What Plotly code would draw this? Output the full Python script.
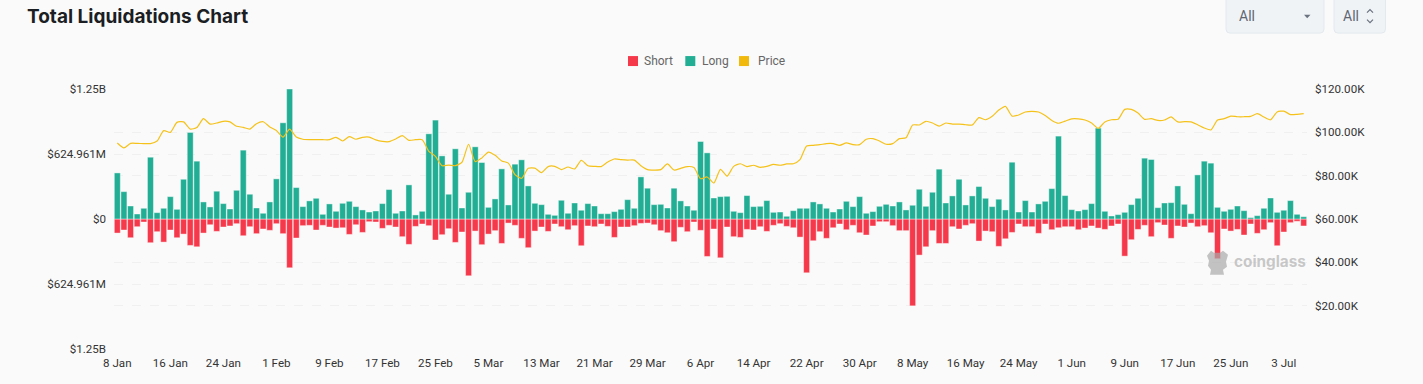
import pandas as pd
import plotly.graph_objects as go

START_DATE = "2025-01-08"
LONG_M = [443,263,125,48,103,594,61,103,215,93,382,832,556,164,116,267,148,96,276,662,
238,106,55,164,386,925,1250,302,119,174,199,45,145,74,151,170,119,87,67,77,
148,283,55,77,328,39,74,819,951,607,238,675,106,257,694,543,112,193,482,135,
527,569,318,151,138,45,35,180,55,154,84,148,125,51,51,71,93,186,103,405,
296,138,141,106,296,174,125,84,745,636,202,215,218,74,61,225,119,122,177,64,
67,26,80,103,103,164,145,103,67,96,170,119,215,55,71,122,141,125,164,87,
132,286,122,257,479,154,222,382,135,222,312,199,119,190,87,546,67,177,67,145,
170,292,797,225,90,77,90,148,874,74,29,42,64,138,199,585,572,109,154,157,
318,141,51,424,556,537,112,74,93,125,80,13,32,103,202,64,84,177,45,22]
SHORT_M = [135,106,180,74,29,228,122,222,106,180,145,254,267,135,55,119,77,67,45,161,
74,141,96,109,45,141,469,183,64,61,106,61,77,87,84,148,55,129,26,29,
90,61,77,170,244,71,48,64,202,151,93,225,125,546,116,247,145,112,235,39,
61,186,276,116,77,119,48,74,103,64,257,67,74,48,71,177,77,77,64,42,
39,55,112,132,218,80,122,29,109,360,96,373,77,170,177,100,106,74,119,61,
45,71,84,174,517,209,122,186,84,48,103,61,132,154,67,26,26,64,112,112,
835,347,267,112,235,235,74,96,61,45,212,116,122,263,190,129,48,74,74,138,
48,103,84,74,74,103,87,67,87,100,67,48,357,199,100,61,170,35,58,186,
67,77,39,74,64,132,382,96,116,100,154,48,138,103,35,257,125,35,22,67]
PRICE_K = [95.1,92.8,94.9,94.9,94.8,94.8,96.0,100.8,100.0,104.6,104.8,101.5,102.2,106.3,103.8,104.3,105.1,104.8,102.8,102.3,
101.5,104.0,104.9,102.5,100.8,97.8,101.5,97.8,96.8,96.6,96.6,96.6,96.6,97.7,96.0,98.0,96.8,97.7,97.8,96.5,
95.8,95.7,96.9,98.5,96.3,96.6,96.6,91.2,88.9,84.6,84.9,84.6,86.2,94.5,86.5,88.2,90.9,89.4,86.8,85.8,
80.5,78.8,83.4,83.5,81.4,84.2,84.3,82.8,84.0,83.1,87.1,84.6,84.3,84.2,86.3,87.7,87.4,87.2,87.2,84.6,
82.8,82.6,82.8,85.4,82.6,83.4,84.2,83.8,78.6,79.4,76.6,82.9,79.8,84.3,85.5,84.2,84.8,83.8,84.3,85.2,
84.8,85.4,85.5,87.4,93.7,94.0,94.3,94.8,94.8,94.0,95.1,94.3,94.3,96.8,97.1,96.0,94.5,94.8,97.1,97.5,
103.4,103.4,105.1,104.3,102.9,104.3,103.8,103.8,103.5,103.4,106.8,105.8,107.4,110.3,112.0,107.5,108.0,109.4,109.7,109.4,
107.8,105.5,104.2,105.2,106.2,106.2,105.7,104.3,101.8,104.8,105.8,106.0,110.6,110.6,108.9,106.0,106.3,105.5,105.7,107.1,
104.8,104.9,104.8,103.5,102.0,101.1,105.7,106.3,107.5,107.2,107.2,107.4,108.6,107.1,105.8,109.4,109.8,108.2,108.3,108.6]
LEFT_TICKS = [-1250, -624.961, 0, 624.961, 1250]
LEFT_LABELS = ["$1.25B", "$624.961M", "$0", "$624.961M", "$1.25B"]
RIGHT_TICKS = [0, 20, 40, 60, 80, 100, 120]
RIGHT_LABELS = ["", "$20.00K", "$40.00K", "$60.00K", "$80.00K", "$100.00K", "$120.00K"]
SERIES_NAMES = ["Short", "Long", "Price"]
SHORT_COLOR, LONG_COLOR, PRICE_COLOR = "#f6384b", "#21ae94", "#f0b90b"

dates = pd.date_range(START_DATE, periods=len(LONG_M), freq="D")
cats = [f"{d.day} {d.strftime('%b')}" for d in dates]
shorts = [-v for v in SHORT_M]

W, H = 1423, 384
L, R, T, B = 114, 1307, 89, 349.5
FONT = "Roboto"
TICK_SIZE = 11.6
def fx(p): return (p - L) / (R - L)
def fy(p): return (B - p) / (B - T)

fig = go.Figure()
edge = "rgba(255,255,255,0.4)"
fig.add_bar(x=cats, y=shorts, name="Short", marker=dict(color=SHORT_COLOR, line=dict(color=edge, width=1)))
fig.add_bar(x=cats, y=LONG_M, name="Long", marker=dict(color=LONG_COLOR, line=dict(color=edge, width=1)))
fig.add_scatter(x=cats, y=PRICE_K, name="Price", yaxis="y2", mode="lines",
                line=dict(color="#f5c21b", width=1.2, shape="spline", smoothing=0.6))

shapes = []
def rrect(x0, y0, x1, y1, r, fill, line):
    path = (f"M {fx(x0+r)} {fy(y0)} L {fx(x1-r)} {fy(y0)} Q {fx(x1)} {fy(y0)} {fx(x1)} {fy(y0+r)} "
            f"L {fx(x1)} {fy(y1-r)} Q {fx(x1)} {fy(y1)} {fx(x1-r)} {fy(y1)} L {fx(x0+r)} {fy(y1)} "
            f"Q {fx(x0)} {fy(y1)} {fx(x0)} {fy(y1-r)} L {fx(x0)} {fy(y0+r)} Q {fx(x0)} {fy(y0)} {fx(x0+r)} {fy(y0)} Z")
    shapes.append(dict(type="path", xref="paper", yref="paper", path=path, fillcolor=fill,
                       line=dict(color=line, width=1), layer="above"))
def poly(points, fill=None, line=None, width=1):
    path = "M " + " L ".join(f"{fx(a)} {fy(b)}" for a, b in points)
    if fill: path += " Z"
    shapes.append(dict(type="path", xref="paper", yref="paper", path=path,
                       fillcolor=fill if fill else "rgba(0,0,0,0)",
                       line=dict(color=line if line else "rgba(0,0,0,0)", width=width), layer="above"))

rrect(1226, -6, 1324, 33, 4, "#eff3f6", "#e4e9ee")
rrect(1334, -6, 1385.5, 33, 4, "#eff3f6", "#e4e9ee")
poly([(1304, 14.5), (1310.5, 14.5), (1307.2, 18)], fill="#6b7280")
poly([(1367, 12.5), (1370, 9.5), (1373, 12.5)], line="#6b7280", width=1.2)
poly([(1367, 19.5), (1370, 22.5), (1373, 19.5)], line="#6b7280", width=1.2)
# legend swatches
for x0, col in zip([628, 685.3, 739], [SHORT_COLOR, LONG_COLOR, PRICE_COLOR]):
    poly([(x0, 56), (x0 + 10, 56), (x0 + 10, 66), (x0, 66)], fill=col)
# watermark bear
wm = "rgba(170,170,170,0.7)"
poly([(1207, 256), (1211, 251), (1214, 253), (1220, 253), (1223, 251), (1228, 255), (1226, 262), (1227, 267),
      (1223, 270), (1224, 275), (1210, 275), (1211, 270), (1208, 266), (1209, 261)], fill=wm)

def note(px, py, text, size, color, anchor="left", weight=None, family=FONT):
    return dict(x=fx(px), y=fy(py), xref="paper", yref="paper", text=text, showarrow=False, xanchor=anchor, yanchor="middle",
                font=dict(size=size, color=color, family=family, weight=weight), xshift=-1)
annotations = [
    note(25.5, 16, "Total Liquidations Chart", 19, "#1b1e23", weight=700, family="Inter"),
    note(1238, 16, "All", 14, "#5f6672"),
    note(1342, 16, "All", 14, "#5f6672"),
    note(1233, 262, "coinglass", 15.3, "rgba(190,190,190,0.85)", weight=700, family="Inter"),
]
for px, name in zip([643.3, 700.7, 757.3], SERIES_NAMES):
    annotations.append(note(px, 61, name, 12, "#666666"))

grid = "#f0f0f0"
fig.update_layout(
    width=W, height=H, margin=dict(l=L, r=W - R, t=T, b=H - B, pad=0),
    paper_bgcolor="#fafafa", plot_bgcolor="#fafafa",
    barmode="relative", bargap=0.1, showlegend=False,
    font=dict(family=FONT, size=12, color="#333333"),
    xaxis=dict(type="category", range=[-0.5, len(cats) - 0.5], tickmode="array", tickvals=cats[::8], ticktext=cats[::8],
               showgrid=False, zeroline=False, showline=False, ticks="", ticklen=0, tickangle=0, ticklabelstandoff=5,
               tickfont=dict(size=TICK_SIZE, color="#333333")),
    yaxis=dict(range=[-1250, 1250], tickmode="array", tickvals=LEFT_TICKS, ticktext=LEFT_LABELS, showgrid=True,
               gridcolor=grid, griddash="dash", gridwidth=1, zeroline=False, ticks="", ticklen=0, ticklabelstandoff=7,
               tickfont=dict(size=TICK_SIZE, color="#333333"), automargin=False),
    yaxis2=dict(range=[0, 120], overlaying="y", side="right", tickmode="array", tickvals=RIGHT_TICKS, ticktext=RIGHT_LABELS,
                showgrid=True, gridcolor=grid, griddash="dash", gridwidth=1, zeroline=False, ticks="", ticklen=0, ticklabelstandoff=7,
                tickfont=dict(size=TICK_SIZE, color="#333333"), automargin=False),
    shapes=shapes, annotations=annotations,
)
fig.write_html("out.html", config=dict(displayModeBar=False),
               post_script="document.body.style.margin='0';document.body.style.overflow='hidden';")
